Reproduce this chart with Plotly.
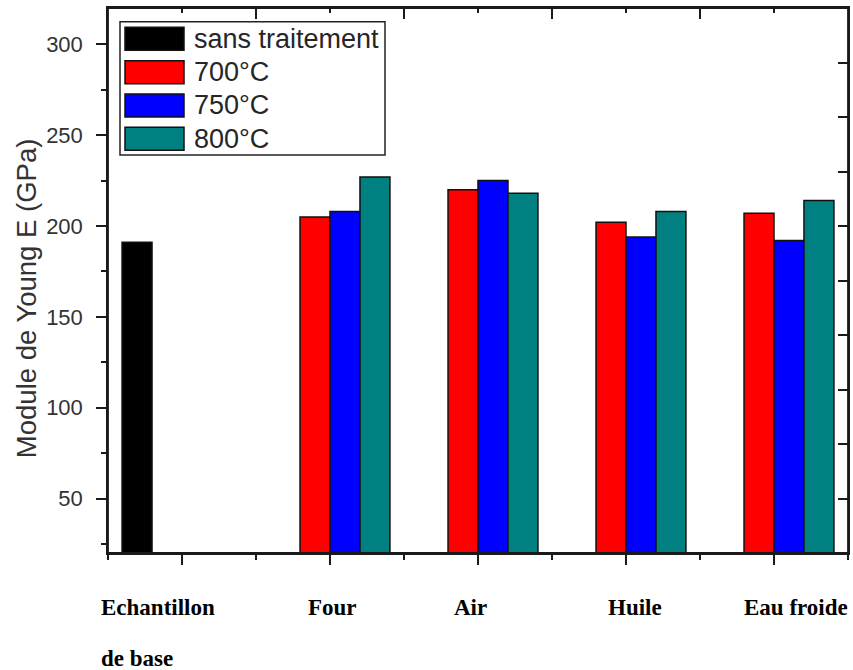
import plotly.graph_objects as go

# Sample groups (x categories) and treatment series
categories = ["Echantillon<br>de base", "Four", "Air", "Huile", "Eau froide"]
series_names = ["sans traitement", "700°C", "750°C", "800°C"]

# Young's modulus values (GPa)
untreated = [191]                  # Echantillon de base
e_700 = [205, 220, 202, 207]       # Four, Air, Huile, Eau froide
e_750 = [208, 225, 194, 192]
e_800 = [227, 218, 208, 214]

colors = ["#000000", "#FF0000", "#0000FF", "#008080"]

# numeric positions of the categories on the x axis
pos = list(range(1, len(categories) + 1))
base_pos = pos[:1]
treated_pos = pos[1:]

fig = go.Figure()
series = [(base_pos, untreated), (treated_pos, e_700),
          (treated_pos, e_750), (treated_pos, e_800)]
for name, (xs, ys), col in zip(series_names, series, colors):
    fig.add_trace(go.Bar(
        x=xs, y=ys, name=name,
        marker=dict(color=col, line=dict(color="#111111", width=1.5)),
        showlegend=False,
    ))

# empty trace so the mirrored top/right axes are rendered
fig.add_trace(go.Scatter(x=[None], y=[None], xaxis="x2", yaxis="y2",
                         showlegend=False, hoverinfo="skip"))

# ---- geometry helpers (pixel -> paper) ----
PL, PR, PT, PB = 108, 848, 8, 552.7
def px_x(x):
    return (x - PL) / (PR - PL)
def px_y(y):
    return (PB - y) / (PB - PT)

axis_col = "#1a1a1a"
tick_font = dict(family="Liberation Sans, Arial, sans-serif", size=22, color="#333333")

fig.update_layout(
    width=853, height=670,
    margin=dict(l=PL, r=853 - PR, t=PT, b=670 - PB),
    paper_bgcolor="white", plot_bgcolor="white",
    barmode="group", bargap=0.19, bargroupgap=0,
    xaxis=dict(
        range=[0.5, 5.5], tick0=1, dtick=1, showticklabels=False,
        showline=True, linecolor=axis_col, linewidth=1.5,
        ticks="outside", ticklen=10, tickwidth=1.5, tickcolor=axis_col,
        minor=dict(ticks="outside", ticklen=5, tickwidth=1.5, tickcolor=axis_col, dtick=0.5, tick0=0.5),
        showgrid=False, zeroline=False, fixedrange=True,
    ),
    xaxis2=dict(
        overlaying="x", side="top", anchor="y",
        range=[0.5, 5.5], tick0=0.5, dtick=1, showticklabels=False,
        showline=True, linecolor=axis_col, linewidth=1.5,
        ticks="inside", ticklen=11, tickwidth=1.5, tickcolor=axis_col,
        minor=dict(ticks="inside", ticklen=5, tickwidth=1.5, tickcolor=axis_col, dtick=0.5, tick0=0.5),
        showgrid=False, zeroline=False,
    ),
    yaxis=dict(
        range=[20, 320], tick0=0, dtick=50,
        showline=True, linecolor=axis_col, linewidth=1.5,
        ticks="outside", ticklen=10, tickwidth=1.5, tickcolor=axis_col,
        minor=dict(ticks="outside", ticklen=5, tickwidth=1.5, tickcolor=axis_col, dtick=25, tick0=0),
        tickfont=tick_font, ticklabelstandoff=9,
        showgrid=False, zeroline=False,
    ),
    yaxis2=dict(
        overlaying="y", side="right", anchor="x",
        range=[20, 320], tick0=20, dtick=30, showticklabels=False,
        showline=True, linecolor=axis_col, linewidth=1.5,
        ticks="inside", ticklen=10, tickwidth=1.5, tickcolor=axis_col,
        showgrid=False, zeroline=False,
    ),
)

annotations = []
shapes = []

# plot frame drawn above the bars
shapes.append(dict(
    type="rect", xref="paper", yref="paper", x0=0, x1=1, y0=0, y1=1,
    line=dict(color=axis_col, width=1.8), fillcolor="rgba(0,0,0,0)", layer="above",
))

# y-axis title
annotations.append(dict(
    text="Module de Young E (GPa)", textangle=-90,
    x=px_x(26), y=px_y(298), xref="paper", yref="paper",
    xanchor="center", yanchor="middle", showarrow=False,
    font=dict(family="Liberation Sans, Arial, sans-serif", size=27.5, color="#333333"),
))

# category labels below the axis
label_anchor = ["left", "center", "center", "center", "center"]
label_shift = [-83, 2, -8, 9, 22]
for p, cat, anc, sh in zip(pos, categories, label_anchor, label_shift):
    for j, line in enumerate(cat.split("<br>")):
        annotations.append(dict(
            text="<b>" + line + "</b>", x=p, xref="x", y=0, yref="paper",
            xanchor=anc, yanchor="middle", xshift=sh, yshift=-54 - 51 * j,
            showarrow=False,
            font=dict(family="Liberation Serif, Times New Roman, serif", size=23, color="#000000"),
        ))

# legend box
shapes.append(dict(
    type="rect", xref="paper", yref="paper",
    x0=px_x(120), x1=px_x(385), y0=px_y(155), y1=px_y(21.7),
    line=dict(color="#222222", width=1.5), fillcolor="white", layer="above",
))
for i, (name, col) in enumerate(zip(series_names, colors)):
    top = 27.3 + 33.3 * i
    shapes.append(dict(
        type="rect", xref="paper", yref="paper",
        x0=px_x(125), x1=px_x(184), y0=px_y(top + 23), y1=px_y(top),
        line=dict(color="#111111", width=1.5), fillcolor=col, layer="above",
    ))
    annotations.append(dict(
        text=name, x=px_x(192), y=px_y(top + 11.5), xref="paper", yref="paper",
        xanchor="left", yanchor="middle", showarrow=False,
        font=dict(family="Liberation Sans, Arial, sans-serif", size=27, color="#262626"),
    ))

fig.update_layout(annotations=annotations, shapes=shapes)

fig.write_html("out.html")
